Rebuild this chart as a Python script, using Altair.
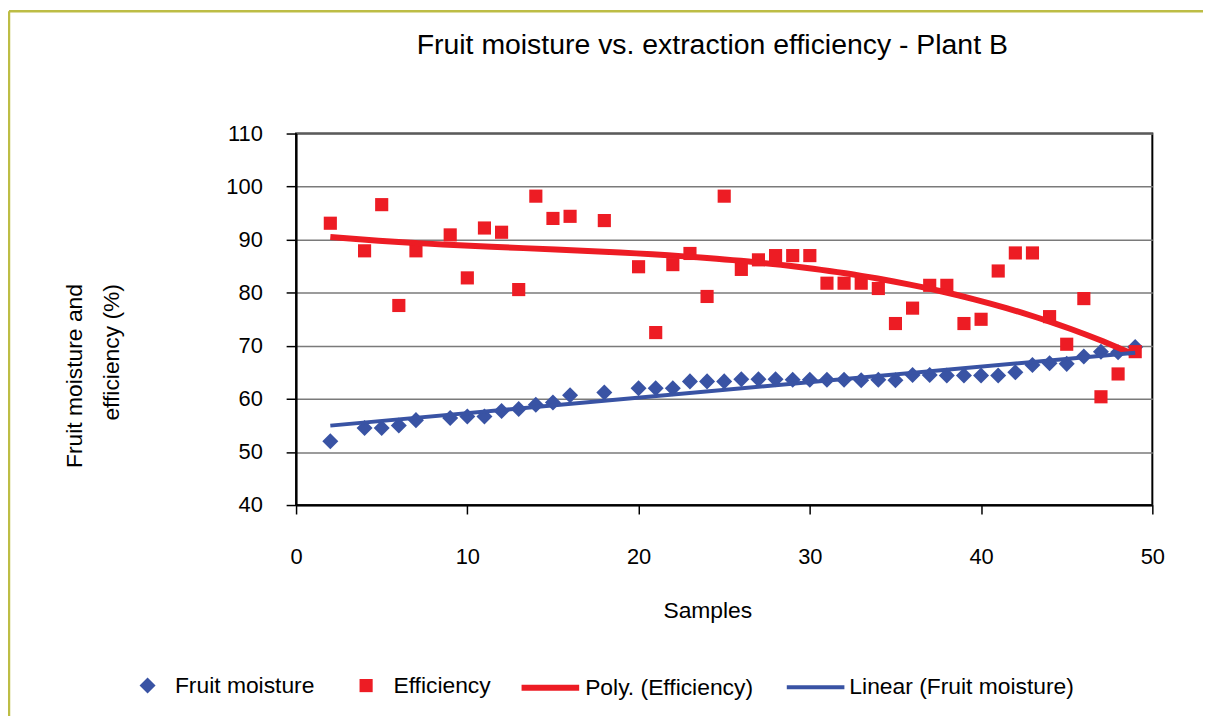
import altair as alt
import pandas as pd

# ---------------- data ----------------
samples = [2, 4, 5, 6, 7, 9, 10, 11, 12, 13, 14, 15, 16, 18, 20, 21, 22, 23, 24, 25,
           26, 27, 28, 29, 30, 31, 32, 33, 34, 35, 36, 37, 38, 39, 40, 41, 42, 43, 44,
           45, 46, 47, 48, 49]
moisture = [52.0, 54.5, 54.5, 55.0, 56.0, 56.4, 56.7, 56.7, 57.7, 58.1, 58.9, 59.3, 60.7,
            61.2, 62.0, 62.0, 62.0, 63.3, 63.3, 63.3, 63.7, 63.7, 63.7, 63.6, 63.6, 63.6,
            63.6, 63.5, 63.6, 63.5, 64.5, 64.5, 64.4, 64.4, 64.4, 64.4, 65.0, 66.4, 66.7,
            66.6, 68.0, 68.9, 68.8, 69.8]
efficiency = [93.1, 87.9, 96.6, 77.6, 87.9, 90.9, 82.8, 92.2, 91.4, 80.6, 98.2, 94.0, 94.4,
              93.6, 84.9, 72.5, 85.3, 87.4, 79.3, 98.2, 84.4, 86.2, 87.0, 87.0, 87.0, 81.8,
              81.8, 81.8, 80.8, 74.2, 77.1, 81.4, 81.4, 74.2, 75.0, 84.1, 87.5, 87.5, 75.5,
              70.3, 78.9, 60.4, 64.7, 68.9]
series_names = ["Fruit moisture", "Efficiency"]
trend_names = ["Poly. (Efficiency)", "Linear (Fruit moisture)"]
x_ticks = [0, 10, 20, 30, 40, 50]
y_ticks = [40, 50, 60, 70, 80, 90, 100, 110]
title_text = "Fruit moisture vs. extraction efficiency - Plant B"
x_title = "Samples"
y_title = ["Fruit moisture and", "efficiency (%)"]

# ---------------- styles ----------------
BLUE = "#3953A4"
RED = "#ED1C24"
OLIVE = "#BDBD45"
FONT = "Liberation Sans"

df = pd.DataFrame({
    "sample": samples * 2,
    "series": [series_names[0]] * len(samples) + [series_names[1]] * len(samples),
    "value": moisture + efficiency,
})

x_enc = alt.X("sample:Q",
              scale=alt.Scale(domain=[0, 50], nice=False, zero=False),
              axis=alt.Axis(values=x_ticks, grid=False, tickSize=9, labelPadding=33,
                            labelFlush=False, title=x_title, titleX=414, titleY=106,
                            titleBaseline="middle", titleAlign="center"))
y_enc = alt.Y("value:Q",
              scale=alt.Scale(domain=[40, 110], nice=False, zero=False),
              axis=alt.Axis(values=y_ticks, grid=True, gridColor="#7a7a7a", gridWidth=1.5,
                            tickSize=10, labelPadding=24, title=y_title, titleAngle=270,
                            titleAlign="right", titleBaseline="top", titleX=-234,
                            titleY=151, titleLineHeight=37))

pts_legend = alt.Legend(title=None, orient="none", legendX=-161, legendY=544,
                        direction="horizontal", symbolSize=130, symbolStrokeWidth=0,
                        labelFont=FONT, labelFontSize=23, labelColor="black",
                        labelOffset=16, columnPadding=40, padding=0, labelLimit=0)
line_legend = alt.Legend(title=None, orient="none", legendX=224, legendY=526,
                         direction="horizontal", symbolType="stroke", symbolSize=3364,
                         labelFont=FONT, labelFontSize=23, labelColor="black",
                         labelOffset=3, columnPadding=25, padding=0, labelLimit=0)

base = alt.Chart(df)

points = base.mark_point(filled=True, opacity=1).encode(
    x=x_enc, y=y_enc,
    color=alt.Color("series:N", scale=alt.Scale(domain=series_names, range=[BLUE, RED]),
                    legend=pts_legend),
    shape=alt.Shape("series:N", scale=alt.Scale(domain=series_names,
                                                range=["diamond", "square"]),
                    legend=pts_legend),
    size=alt.Size("series:N", scale=alt.Scale(domain=series_names, range=[260, 175]),
                  legend=None),
)

line_color = alt.Color("trend:N", scale=alt.Scale(domain=trend_names, range=[RED, BLUE]),
                       legend=line_legend)
line_width = alt.StrokeWidth("trend:N", scale=alt.Scale(domain=trend_names, range=[6, 4]),
                             legend=line_legend)

poly = base.transform_filter(
    alt.datum.series == series_names[1]
).transform_regression(
    "sample", "value", method="poly", order=3
).transform_calculate(
    trend="'" + trend_names[0] + "'"
).mark_line().encode(x=x_enc, y=y_enc, color=line_color, strokeWidth=line_width)

lin = base.transform_filter(
    alt.datum.series == series_names[0]
).transform_regression(
    "sample", "value", method="linear"
).transform_calculate(
    trend="'" + trend_names[1] + "'"
).mark_line().encode(x=x_enc, y=y_enc, color=line_color, strokeWidth=line_width)

lines = alt.layer(poly, lin)

one = pd.DataFrame({"k": [0]})
border_top = alt.Chart(one).mark_rule(color=OLIVE, strokeWidth=2.5).encode(
    x=alt.value(-289), x2=alt.value(913), y=alt.value(-123))
border_left = alt.Chart(one).mark_rule(color=OLIVE, strokeWidth=2.5).encode(
    x=alt.value(-289), y=alt.value(-123), y2=alt.value(600))

chart = alt.layer(points, lines, border_top, border_left).resolve_scale(
    color="independent", shape="independent", size="independent",
    strokeWidth="independent"
).resolve_legend(
    color="independent", shape="independent", size="independent",
    strokeWidth="independent"
).properties(
    width=862, height=374,
    autosize=alt.AutoSizeParams(type="none"),
    padding={"left": 290, "top": 124, "right": 51, "bottom": 210},
    title=alt.TitleParams(text=title_text, anchor="middle", dx=-12, offset=0, dy=79,
                          baseline="bottom"),
).configure_view(
    stroke="black", strokeWidth=2
).configure_axis(
    domainColor="black", domainWidth=2, tickColor="black", tickWidth=1.5,
    labelFont=FONT, labelFontSize=22, labelColor="black",
    titleFont=FONT, titleFontSize=23, titleFontWeight="normal", titleColor="black",
).configure_title(
    font=FONT, fontSize=28.6, fontWeight="normal", color="black"
)

chart.save("out.html", embed_options={"renderer": "svg", "actions": False})
